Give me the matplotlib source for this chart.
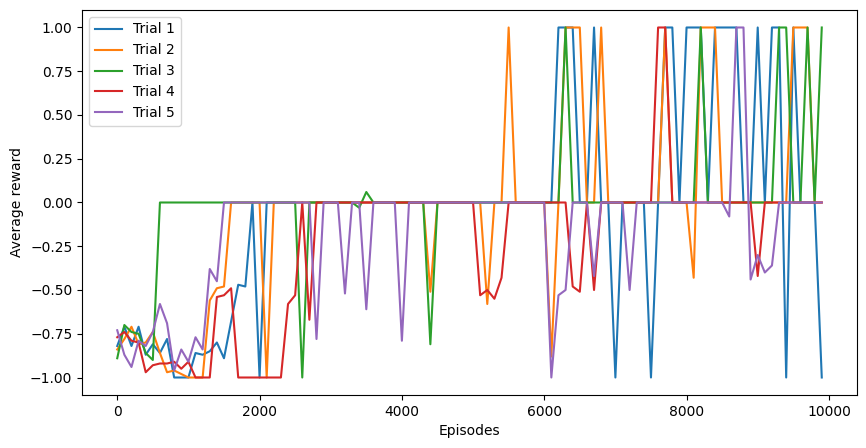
import numpy as np
import matplotlib
matplotlib.use('Agg')
import matplotlib.pyplot as plt

episodes = np.arange(0, 10000, 100)


def build(start, nonzero):
    # 100 points, mostly 0 after the early phase; nonzero holds index -> value
    vals = [0.0] * 100
    vals[:len(start)] = start
    for k, v in nonzero.items():
        vals[k] = v
    return vals


trial1 = build(
    [-0.82, -0.71, -0.82, -0.71, -0.87, -0.81, -0.86, -0.78, -1, -1,
     -1, -0.86, -0.87, -0.85, -0.80, -0.89, -0.68, -0.47, -0.48, 0,
     -1, 0],
    {62: 1, 63: 1, 64: 1, 67: 1, 70: -1, 75: -1, 77: 1, 78: 1, 80: 1, 81: 1,
     82: 1, 84: 1, 85: 1, 86: 1, 87: 1, 90: 1, 92: 1, 93: 1, 94: -1, 95: 1,
     99: -1})

trial2 = build(
    [-0.84, -0.78, -0.71, -0.81, -0.80, -0.74, -0.86, -0.97, -0.96, -0.98,
     -1, -1, -1, -0.56, -0.49, -0.48, 0, 0, 0, 0,
     0, -1, 0],
    {44: -0.51, 52: -0.58, 55: 1, 61: -0.88, 63: 1, 64: 1, 65: 1, 68: 1,
     77: 1, 81: -0.43, 82: 1, 83: 1, 84: 1, 95: 1, 96: 1, 97: 1})

trial3 = build(
    [-0.89, -0.70, -0.74, -0.75, -0.86, -0.90, 0],
    {26: -1, 34: -0.03, 35: 0.06, 44: -0.81, 63: 1, 82: 1, 93: 1, 94: 1,
     97: 1, 99: 1})

trial4 = build(
    [-0.77, -0.74, -0.79, -0.80, -0.97, -0.93, -0.92, -0.92, -0.91, -0.95,
     -0.91, -1, -1, -1, -0.54, -0.53, -0.49, -1, -1, -1,
     -1, -1, -1, -1, -0.58, -0.53, 0, -0.67, 0],
    {51: -0.53, 52: -0.50, 53: -0.55, 54: -0.43, 64: -0.48, 65: -0.51,
     67: -0.50, 76: 1, 77: 1, 90: -0.42})

trial5 = build(
    [-0.73, -0.87, -0.94, -0.79, -0.82, -0.74, -0.58, -0.69, -0.96, -0.84,
     -0.91, -0.77, -0.84, -0.38, -0.45, 0],
    {28: -0.78, 32: -0.52, 35: -0.61, 40: -0.79, 61: -1, 62: -0.53,
     63: -0.50, 67: -0.42, 72: -0.50, 86: -0.08, 87: 1, 88: 1, 89: -0.44,
     90: -0.30, 91: -0.40, 92: -0.36})

trials = [trial1, trial2, trial3, trial4, trial5]
labels = ['Trial 1', 'Trial 2', 'Trial 3', 'Trial 4', 'Trial 5']

fig, ax = plt.subplots(figsize=(8.66, 4.48), dpi=100)
fig.subplots_adjust(left=0.0947, right=0.9896, bottom=0.1183, top=0.9777)

for vals, lab in zip(trials, labels):
    ax.plot(episodes, vals, label=lab)

ax.set_xlabel('Episodes')
ax.set_ylabel('Average reward')
ax.legend(loc='upper left')

fig.savefig('out.png', dpi=100)
